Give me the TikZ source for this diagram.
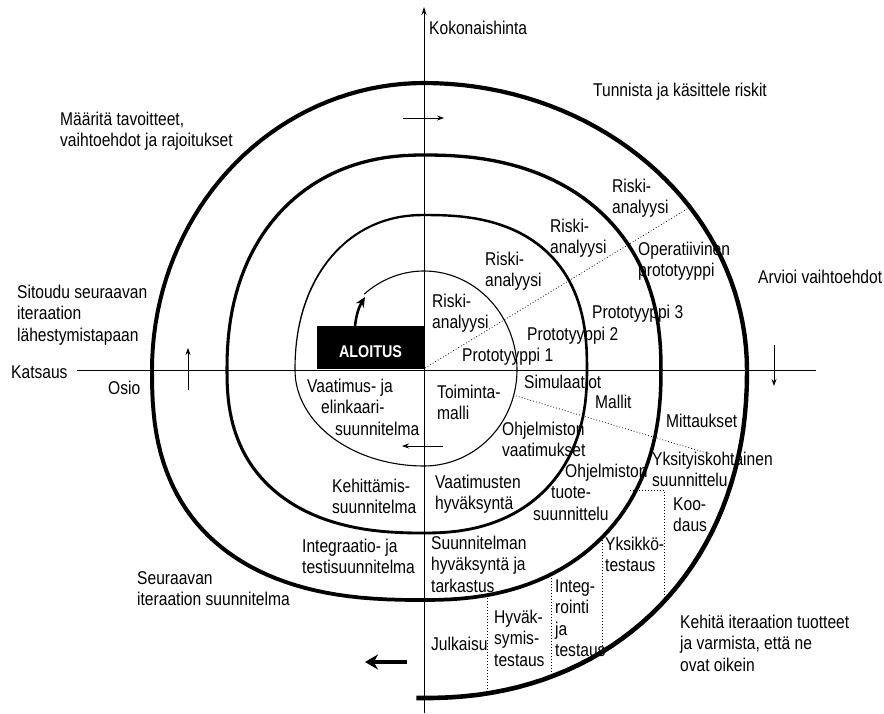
\documentclass[tikz,border=0pt]{standalone}
\usepackage{fontspec}
\setmainfont{Liberation Sans}[FakeStretch=0.843]
\usetikzlibrary{arrows.meta}

% outer / inner edge of one quarter of the tapered spiral band
% #1,#2 angle range, #3 x radius, #4 y radius, #5 shape exponent (2/n)
\newcommand\spo[5]{-- plot[domain=#1:#2,samples=40,variable=\t]
  ({(#3+hw(\t))*sx(\t,#5)},{(#4+hw(\t))*sy(\t,#5)})}
\newcommand\spi[5]{-- plot[domain=#1:#2,samples=40,variable=\t]
  ({(#3-hw(\t))*sx(\t,#5)},{(#4-hw(\t))*sy(\t,#5)})}

\begin{document}
\begin{tikzpicture}[x=1pt,y=1pt,
  declare function={
    sx(\u,\w)=(cos(\u)<0?-1:1)*(max(abs(cos(\u)),0.00001))^(\w);
    sy(\u,\w)=(sin(\u)<0?-1:1)*(max(abs(sin(\u)),0.00001))^(\w);
    hw(\u)=((\u)>-270)?(0.55+(-180-(\u))/90*0.65):(1.2+(-270-(\u))/901*1.1);
  },
  % multi-line labels are anchored at the baseline of their last line
  lbl/.style={font=\fontsize{18.5}{21.5}\selectfont, inner sep=0pt,
    anchor=base west, align=left, text=black},
  axis/.style={line width=0.9pt},
  guide/.style={line width=0.7pt, dash pattern=on 0.9pt off 2.1pt},
  small arrow/.style={line width=0.8pt, -{Stealth[length=7pt,width=5pt]}},
]
\useasboundingbox (-424,-343) rectangle (460,370);

% ---------- labels ----------
\node[lbl] (kok)  at (5,335)      {Kokonaishinta};
\node[lbl] (tunn) at (169,274)    {Tunnista ja käsittele riskit};
\node[lbl] (maar) at (-364,223.5) {Määritä tavoitteet,\\vaihtoehdot ja rajoitukset};
\node[lbl] (arv)  at (334,87)     {Arvioi vaihtoehdot};
\node[lbl] (sit)  at (-407,29)    {Sitoudu seuraavan\\iteraation\\lähestymistapaan};
\node[lbl] (kats) at (-413,-8)    {Katsaus};
\node[lbl] (osio) at (-316,-24)   {Osio};
\node[lbl] (seur) at (-287,-235.5){Seuraavan\\iteraation suunnitelma};
\node[lbl] (keh)  at (256,-301)   {Kehitä iteraation tuotteet\\ja varmista, että ne\\ovat oikein};

\node[lbl] (ra1)  at (8,41.5)     {Riski-\\analyysi};
\node[lbl] (ra2)  at (61,83.5)    {Riski-\\analyysi};
\node[lbl] (ra3)  at (126,116.5)  {Riski-\\analyysi};
\node[lbl] (ra4)  at (188,156.5)  {Riski-\\analyysi};
\node[lbl] (oper) at (214,93.5)   {Operatiivinen\\prototyyppi};
\node[lbl] (pr3)  at (168,52)     {Prototyyppi 3};
\node[lbl] (pr2)  at (103,30)     {Prototyyppi 2};
\node[lbl] (pr1)  at (38,9)       {Prototyyppi 1};
\node[lbl] (sim)  at (100,-18)    {Simulaatiot};
\node[lbl] (mal)  at (171,-38)    {Mallit};
\node[lbl] (mit)  at (242,-57)    {Mittaukset};
\node[lbl] (toim) at (13,-49.5)   {Toiminta-\\malli};
\node[lbl] (vaat) at (-117,-65)   {Vaatimus- ja\\\hspace*{14pt}elinkaari-\\\hspace*{28pt}suunnitelma};
\node[lbl] (ohv)  at (78,-86.5)   {Ohjelmiston\\vaatimukset};
\node[lbl] (kehs) at (-92,-143.5) {Kehittämis-\\suunnitelma};
\node[lbl] (vhyv) at (11,-139.5)  {Vaatimusten\\hyväksyntä};
\node[lbl] (ohtu) at (109,-150)   {\hspace*{32pt}Ohjelmiston\\\hspace*{18pt}tuote-\\suunnittelu};
\node[lbl] (ints) at (-122,-203.5){Integraatio- ja\\testisuunnitelma};
\node[lbl] (shyv) at (7,-222)     {Suunnitelman\\hyväksyntä ja\\tarkastus};
\node[lbl] (yks)  at (228,-116.5) {Yksityiskohtainen\\suunnittelu};
\node[lbl] (koo)  at (249,-161.5) {Koo-\\daus};
\node[lbl] (ykt)  at (181,-201.5) {Yksikkö-\\testaus};
\node[lbl] (integ) at (131,-286.5){Integ-\\rointi\\ja\\testaus};
\node[lbl] (hyvt) at (70,-296)    {Hyväk-\\symis-\\testaus};
\node[lbl] (julk) at (7,-280)     {Julkaisu};

% ---------- axes ----------
\coordinate (vbot) at (0,-343);
\coordinate (vtop) at (0,363);
\coordinate (hl) at (-347,0);
\coordinate (hr) at (392,0);
\draw[axis,-{Stealth[length=8pt,width=5pt]}] (vbot) -- (vtop);
\draw[axis] (hl) -- (hr);

% ---------- dotted partitions ----------
\coordinate (c0) at (1,2);
\coordinate (d1) at (268,164);
\coordinate (d2a) at (89,-25);
\coordinate (d2b) at (286,-84);
\draw[guide] (c0) -- (d1);
\draw[guide] (d2a) -- (d2b);
\coordinate (h1) at (206,-120);
\coordinate (h2) at (240,-120);
\coordinate (h3) at (240,-231);
\draw[guide] (h1) -- (h2) -- (h3);
\coordinate (v1a) at (178,-167); \coordinate (v1b) at (178,-282);
\coordinate (v2a) at (127,-205); \coordinate (v2b) at (127,-307);
\coordinate (v3a) at (63,-228);  \coordinate (v3b) at (63,-323);
\draw[guide] (v1a) -- (v1b);
\draw[guide] (v2a) -- (v2b);
\draw[guide] (v3a) -- (v3b);

% ---------- spiral: thin first turn ----------
\draw[line width=1.1pt]
  plot[domain=130:90,samples=20,variable=\t] ({93*cos(\t)},{99*sin(\t)})
  -- plot[domain=90:0,samples=40,variable=\t] ({93*cos(\t)},{99*sin(\t)})
  -- plot[domain=0:-90,samples=40,variable=\t] ({93*cos(\t)},{96*sin(\t)})
  -- plot[domain=-90:-180,samples=40,variable=\t] ({129*cos(\t)},{96*sin(\t)});

% ---------- spiral: widening band ----------
\fill[black]
  plot[domain=-180:-270,samples=40,variable=\t]
    ({(129+hw(\t))*sx(\t,0.93)},{(155+hw(\t))*sy(\t,0.93)})
  \spo{-270}{-360}{163}{155}{0.8}
  \spo{-360}{-450}{163}{163}{0.87}
  \spo{-450}{-540}{197}{163}{0.83}
  \spo{-540}{-630}{197}{215}{0.9}
  \spo{-630}{-720}{237}{215}{0.87}
  \spo{-720}{-810}{237}{230}{0.87}
  \spo{-810}{-900}{272}{230}{0.8}
  \spo{-900}{-990}{272}{287}{1}
  \spo{-990}{-1080}{323}{287}{1}
  \spo{-1080}{-1171}{323}{328}{0.93}
  \spi{-1171}{-1080}{323}{328}{0.93}
  \spi{-1080}{-990}{323}{287}{1}
  \spi{-990}{-900}{272}{287}{1}
  \spi{-900}{-810}{272}{230}{0.8}
  \spi{-810}{-720}{237}{230}{0.87}
  \spi{-720}{-630}{237}{215}{0.87}
  \spi{-630}{-540}{197}{215}{0.9}
  \spi{-540}{-450}{197}{163}{0.83}
  \spi{-450}{-360}{163}{163}{0.87}
  \spi{-360}{-270}{163}{155}{0.8}
  \spi{-270}{-180}{129}{155}{0.93}
  -- cycle;

% ---------- start box ----------
\node[fill=black, text=white, font=\bfseries\fontsize{17}{17}\selectfont,
  minimum width=107pt, minimum height=43pt, inner sep=0pt,
  text height=20pt, text depth=0pt] (aloitus) at (-53.5,22.5) {ALOITUS};
\coordinate (st) at (-59,73);
\draw[line width=2.6pt, -{Stealth[length=10pt,width=9pt]}]
  ([xshift=-15.5pt]aloitus.north) to[bend left=12] (st);

% ---------- direction arrows ----------
\coordinate (a1s) at (-21,252); \coordinate (a1e) at (20,252);
\coordinate (a2s) at (350,25);  \coordinate (a2e) at (350,-16);
\coordinate (a3s) at (19,-76);  \coordinate (a3e) at (-22,-76);
\coordinate (a4s) at (-236,-20);\coordinate (a4e) at (-236,22);
\coordinate (a5s) at (-17,-292);\coordinate (a5e) at (-59,-292);
\draw[small arrow] (a1s) -- (a1e);
\draw[small arrow] (a2s) -- (a2e);
\draw[small arrow] (a3s) -- (a3e);
\draw[small arrow] (a4s) -- (a4e);
\draw[line width=3.5pt, -{Stealth[length=13pt,width=15pt]}] (a5s) -- (a5e);
\end{tikzpicture}
\end{document}
